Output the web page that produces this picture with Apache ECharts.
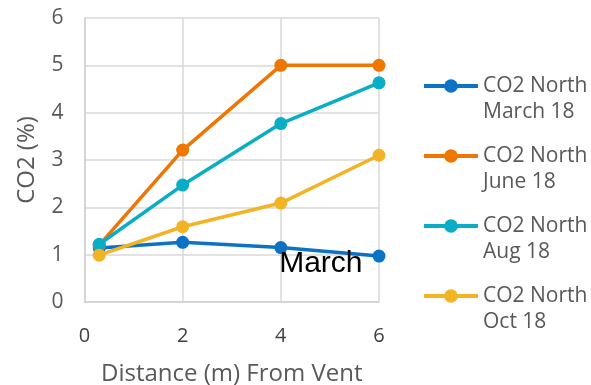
<!DOCTYPE html>
<html><head><meta charset="utf-8">
<script src="https://cdn.jsdelivr.net/npm/echarts@6/dist/echarts.min.js"></script>
<style>html,body{margin:0;padding:0;background:#fff}#c{width:591px;height:385px}</style>
</head><body><div id="c"></div>
<script>
const distances = [0.3, 2, 4, 6];
const seriesNames = ['CO2 North\nMarch 18', 'CO2 North\nJune 18', 'CO2 North\nAug 18', 'CO2 North\nOct 18'];
const march = [1.14, 1.26, 1.15, 0.97];
const june = [1.2, 3.21, 5.0, 5.0];
const aug = [1.22, 2.47, 3.77, 4.63];
const oct = [0.99, 1.59, 2.09, 3.1];
const colors = ['#0B72C6', '#EE7601', '#0AADC6', '#F2B324'];
const xTicks = [0, 2, 4, 6];
const yTicks = [0, 1, 2, 3, 4, 5, 6];
const annotationText = 'March';
const annotationIndex = 2;

const allValues = [march, june, aug, oct];
const chart = echarts.init(document.getElementById('c'));
const font = 'Open Sans';
const series = allValues.map((vals, i) => ({
  name: seriesNames[i],
  type: 'line',
  data: vals.map((v, j) => {
    const item = { value: [distances[j], v] };
    if (i === 0 && j === annotationIndex) {
      item.label = {
        show: true, formatter: annotationText, position: 'inside',
        offset: [40, 16], color: '#000', fontFamily: 'Liberation Sans', fontSize: 30
      };
    }
    return item;
  }),
  symbol: 'circle', symbolSize: 13,
  lineStyle: { width: 3.5, color: colors[i] },
  itemStyle: { color: colors[i] },
  z: 2 + i
}));
chart.setOption({
  animation: false,
  grid: { left: 84.5, right: 212, top: 18, bottom: 83, outerBoundsMode: 'none', containLabel: false },
  xAxis: {
    type: 'value', min: xTicks[0], max: xTicks[xTicks.length - 1], interval: 2,
    name: 'Distance (m) From Vent', nameLocation: 'middle', nameGap: 60,
    nameTextStyle: { fontFamily: font, fontSize: 24, color: '#595959' },
    axisLine: { show: true, lineStyle: { color: '#d0d0d0', width: 1.5 } },
    axisTick: { show: false },
    axisLabel: { fontFamily: font, fontSize: 20, color: '#404040', margin: 24 },
    splitLine: { show: true, lineStyle: { color: '#d9d9d9', width: 1.5 } }
  },
  yAxis: {
    type: 'value', min: yTicks[0], max: yTicks[yTicks.length - 1], interval: 1,
    name: 'CO2 (%)', nameLocation: 'middle', nameGap: 45,
    nameTextStyle: { fontFamily: font, fontSize: 24, color: '#595959' },
    axisLine: { show: true, lineStyle: { color: '#d0d0d0', width: 1.5 } },
    axisTick: { show: false },
    axisLabel: { fontFamily: font, fontSize: 21, color: '#595959', margin: 21 },
    splitLine: { show: true, lineStyle: { color: '#d9d9d9', width: 1.5 } }
  },
  legend: {
    orient: 'vertical', left: 417, top: 42, itemWidth: 54, itemHeight: 17, itemGap: -8,
    data: seriesNames,
    formatter: name => '\u00a0\n' + name,
    lineStyle: { width: 4 },
    textStyle: { fontFamily: font, fontSize: 21, color: '#595959', lineHeight: 26 }
  },
  series: series
});
</script></body></html>
